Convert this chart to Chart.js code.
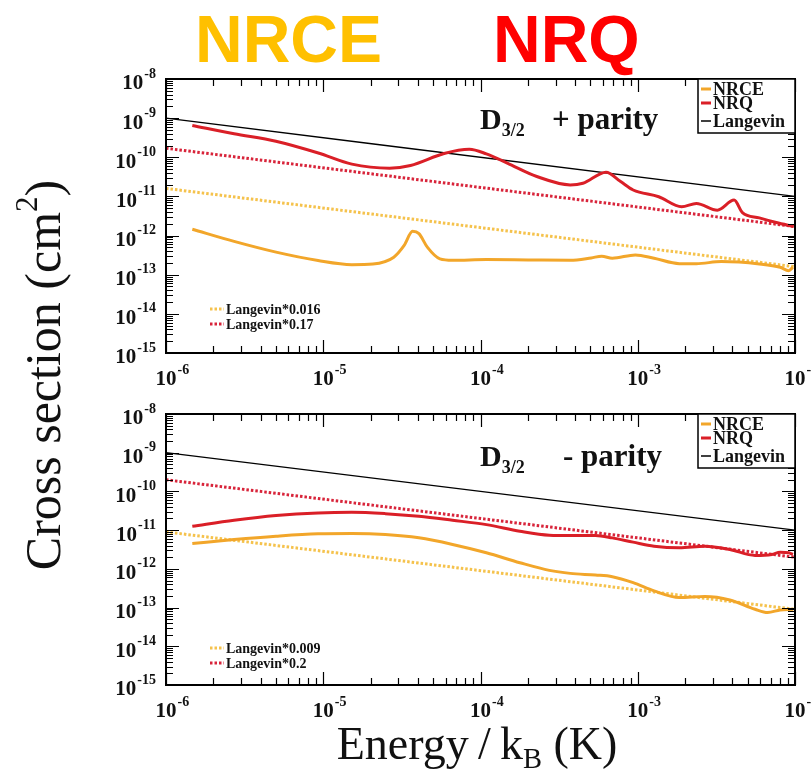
<!DOCTYPE html>
<html>
<head>
<meta charset="utf-8">
<script src="https://cdn.jsdelivr.net/npm/chart.js@4.4.0/dist/chart.umd.min.js"></script>
<style>
    html, body { margin: 0; padding: 0; background: #fff; }
    #page { position: relative; width: 811px; height: 769px; overflow: hidden; }
    #page canvas { position: absolute; left: 0; }
    .big { position: absolute; top: 6px; font: bold 66px 'Liberation Sans', Arial, sans-serif; line-height: 1; }
    .axis-title { position: absolute; width: 500px; height: 60px; line-height: 60px; text-align: center;
                  font-family: 'Liberation Serif', serif; color: #111; white-space: nowrap; }
    #ytitle { left: -207px; top: 345px; font-size: 50px; transform: rotate(-90deg); }
    #xtitle { left: 227px; top: 714px; font-size: 46px; }
    .axis-title sup { font-size: 0.62em; position: relative; top: -0.75em; vertical-align: baseline; line-height: 0; }
    .axis-title sub { font-size: 0.62em; position: relative; top: 0.3em; vertical-align: baseline; line-height: 0; }
</style>
</head>
<body>
<div id="page">
    <div class="big" style="left:195px; color:#FFC000;">NRCE</div>
    <div class="big" style="left:493px; color:#FF0000;">NRQ</div>
    <canvas id="plusChart" width="811" height="400" style="top:0;"></canvas>
    <canvas id="minusChart" width="811" height="369" style="top:400px;"></canvas>
    <div id="ytitle" class="axis-title">Cross section (cm<sup>2</sup>)</div>
    <div id="xtitle" class="axis-title">Energy&#8201;/&#8201;k<sub>B</sub> (K)</div>
</div>
<script>
// Eixos (log-log)
const energyLimits = [1e-6, 1e-2];
const sigmaLimits = [1e-15, 1e-8];
const xExponents = [-6, -5, -4, -3, -2];
const yExponents = [-8, -9, -10, -11, -12, -13, -14, -15];

// Reta de Langevin (extremos)
const langevinEnergy = [1e-6, 1e-2];
const langevinSigma = [1e-9, 1e-11];

// D3/2, paridade +
const plusNrqEnergy = [1.47e-6, 2.71e-6, 5.0e-6, 9.3e-6, 1.52e-5, 2.64e-5, 3.59e-5, 5.87e-5, 8.49e-5, 1.09e-4,
    1.48e-4, 2.28e-4, 3.72e-4, 4.48e-4, 6.28e-4, 7.78e-4, 9.35e-4, 1.36e-3, 1.90e-3, 2.36e-3,
    3.21e-3, 4.10e-3, 4.63e-3, 5.93e-3, 7.6e-3, 9.8e-3];
const plusNrqSigma = [6.52e-10, 4.0e-10, 2.58e-10, 1.29e-10, 6.70e-11, 5.28e-11, 6.19e-11, 1.25e-10, 1.6e-10, 1.22e-10,
    7.11e-11, 3.23e-11, 1.97e-11, 2.17e-11, 4.17e-11, 2.40e-11, 1.46e-11, 9.8e-12, 5.43e-12, 6.62e-12,
    4.46e-12, 8.07e-12, 3.88e-12, 2.83e-12, 2.15e-12, 1.7e-12];
const plusNrceEnergy = [1.47e-6, 2.71e-6, 5.01e-6, 9.27e-6, 1.52e-5, 2.07e-5, 2.81e-5, 3.27e-5, 3.70e-5, 4.06e-5,
    4.59e-5, 5.52e-5, 6.64e-5, 1.09e-4, 2.01e-4, 3.72e-4, 5.06e-4, 5.90e-4, 6.89e-4, 9.66e-4,
    1.27e-3, 1.84e-3, 2.36e-3, 3.40e-3, 5.93e-3, 8.05e-3, 9.12e-3, 9.70e-3];
const plusNrceSigma = [1.45e-12, 7.10e-13, 3.77e-13, 2.30e-13, 1.81e-13, 1.88e-13, 2.80e-13, 5.58e-13, 1.28e-12, 1.12e-12,
    5.06e-13, 2.54e-13, 2.34e-13, 2.44e-13, 2.39e-13, 2.34e-13, 2.69e-13, 2.97e-13, 2.64e-13, 3.21e-13,
    2.64e-13, 1.92e-13, 1.92e-13, 2.16e-13, 1.88e-13, 1.55e-13, 1.27e-13, 1.55e-13];
const plusFactors = [0.016, 0.17];

// D3/2, paridade -
const minusNrqEnergy = [1.47e-6, 2.71e-6, 5.01e-6, 9.27e-6, 1.52e-5, 2.48e-5, 4.06e-5, 6.64e-5, 1.09e-4, 1.78e-4,
    2.74e-4, 3.72e-4, 5.38e-4, 6.89e-4, 9.35e-4, 1.27e-3, 1.84e-3, 2.67e-3, 3.85e-3, 5.57e-3,
    7.13e-3, 8.05e-3, 9.12e-3, 9.70e-3];
const minusNrqSigma = [1.26e-11, 1.80e-11, 2.38e-11, 2.78e-11, 2.89e-11, 2.67e-11, 2.28e-11, 1.80e-11, 1.39e-11, 9.4e-12,
    7.41e-12, 7.26e-12, 7.26e-12, 6.32e-12, 4.90e-12, 3.86e-12, 3.50e-12, 3.86e-12, 3.17e-12, 2.22e-12,
    2.36e-12, 2.70e-12, 2.60e-12, 2.36e-12];
const minusNrceEnergy = [1.47e-6, 2.71e-6, 5.01e-6, 9.27e-6, 1.52e-5, 2.48e-5, 4.06e-5, 6.64e-5, 1.09e-4, 1.78e-4,
    2.74e-4, 3.72e-4, 5.38e-4, 6.89e-4, 9.35e-4, 1.27e-3, 1.84e-3, 2.67e-3, 3.85e-3, 5.57e-3,
    6.70e-3, 8.05e-3, 9.70e-3];
const minusNrceSigma = [4.52e-12, 5.73e-12, 6.98e-12, 8.02e-12, 8.17e-12, 7.71e-12, 6.32e-12, 4.27e-12, 2.60e-12, 1.44e-12,
    9.14e-13, 7.64e-13, 6.92e-13, 6.28e-13, 4.40e-13, 2.69e-13, 1.81e-13, 1.92e-13, 1.57e-13, 9.06e-14,
    7.43e-14, 8.71e-14, 9.06e-14];
const minusFactors = [0.009, 0.2];

// Cores
const corNrce = '#F2A62A';
const corNrceTracejado = '#F5C24C';
const corNrq = '#DA1F27';
const corNrqTracejado = '#D8243A';

const serif = "'Liberation Serif', serif";

function pontos(xs, ys) {
    return xs.map((v, i) => ({ x: v, y: ys[i] }));
}

// "10" com expoente sobrescrito
function desenharPotencia(ctx, exp, x, y, alinhamento) {
    ctx.font = 'bold 21px ' + serif;
    const w10 = ctx.measureText('10').width;
    ctx.font = 'bold 14px ' + serif;
    const texto = String(exp);
    const wExp = ctx.measureText(texto).width;
    const x10 = alinhamento === 'center' ? x - w10 / 2 : x - w10 - wExp - 1;
    ctx.textAlign = 'left';
    ctx.textBaseline = 'middle';
    ctx.font = 'bold 21px ' + serif;
    ctx.fillText('10', x10, y + 5);
    ctx.font = 'bold 14px ' + serif;
    ctx.fillText(texto, x10 + w10 + 1, y - 5);
}

// Moldura, marcas, rótulos e legendas de cada painel
const painelPlugin = {
    id: 'painel',
    afterDraw(chart, args, o) {
        const { ctx, chartArea: a, scales: { x, y } } = chart;
        ctx.save();
        ctx.strokeStyle = '#000';
        ctx.fillStyle = '#111';

        // marcas menores e maiores nos quatro lados
        ctx.lineWidth = 1.2;
        ctx.beginPath();
        for (let e = xExponents[0]; e <= xExponents[xExponents.length - 1]; e++) {
            for (let m = 1; m <= 9; m++) {
                const v = m * Math.pow(10, e);
                if (v > energyLimits[1] * 1.001) break;
                const px = Math.round(x.getPixelForValue(v)) + 0.5;
                const len = m === 1 ? 13 : 7;
                ctx.moveTo(px, a.bottom); ctx.lineTo(px, a.bottom - len);
                ctx.moveTo(px, a.top); ctx.lineTo(px, a.top + len);
            }
        }
        for (let e = yExponents[yExponents.length - 1]; e <= yExponents[0]; e++) {
            for (let m = 1; m <= 9; m++) {
                const v = m * Math.pow(10, e);
                if (v > sigmaLimits[1] * 1.001) break;
                const py = Math.round(y.getPixelForValue(v)) + 0.5;
                const len = m === 1 ? 13 : 7;
                ctx.moveTo(a.left, py); ctx.lineTo(a.left + len, py);
                ctx.moveTo(a.right, py); ctx.lineTo(a.right - len, py);
            }
        }
        ctx.stroke();

        ctx.lineWidth = 2;
        ctx.strokeRect(a.left, a.top, a.right - a.left, a.bottom - a.top);

        // rótulos dos eixos
        xExponents.forEach(e => desenharPotencia(ctx, e, x.getPixelForValue(Math.pow(10, e)), a.bottom + 22, 'center'));
        yExponents.forEach(e => desenharPotencia(ctx, e, a.left - 10, y.getPixelForValue(Math.pow(10, e)), 'right'));

        // legenda do canto superior direito
        const bx = a.right - 97, by = a.top;
        ctx.fillStyle = '#fff';
        ctx.fillRect(bx, by, a.right - bx, 54);
        ctx.lineWidth = 1.5;
        ctx.strokeRect(bx, by, a.right - bx, 54);
        const linhas = [
            { nome: 'NRCE', cor: corNrce, largura: 3, dy: 10 },
            { nome: 'NRQ', cor: corNrq, largura: 3, dy: 24 },
            { nome: 'Langevin', cor: '#000', largura: 1.5, dy: 42 }
        ];
        ctx.textAlign = 'left';
        ctx.textBaseline = 'middle';
        linhas.forEach(l => {
            ctx.strokeStyle = l.cor;
            ctx.lineWidth = l.largura;
            ctx.beginPath();
            ctx.moveTo(bx + 3, by + l.dy);
            ctx.lineTo(bx + 13, by + l.dy);
            ctx.stroke();
            ctx.fillStyle = '#111';
            ctx.font = 'bold 18px ' + serif;
            ctx.fillText(l.nome, bx + 15, by + l.dy + 1);
        });

        // D3/2 e paridade
        ctx.textBaseline = 'alphabetic';
        ctx.font = 'bold 30px ' + serif;
        ctx.fillText('D', 480, a.top + o.baseD);
        const wD = ctx.measureText('D').width;
        ctx.font = 'bold 18px ' + serif;
        ctx.fillText('3/2', 480 + wD, a.top + o.baseD + 7);
        ctx.font = 'bold 31px ' + serif;
        ctx.fillText(o.paridade, o.xParidade, a.top + o.baseD);

        // legenda das retas de Langevin escaladas
        ctx.textBaseline = 'middle';
        o.escalas.forEach((s, i) => {
            const ly = a.top + o.yEscalas[i];
            ctx.strokeStyle = s.cor;
            ctx.lineWidth = 3;
            ctx.setLineDash([2.5, 2]);
            ctx.beginPath();
            ctx.moveTo(a.left + 44, ly);
            ctx.lineTo(a.left + 58, ly);
            ctx.stroke();
            ctx.setLineDash([]);
            ctx.fillStyle = '#111';
            ctx.font = 'bold 14px ' + serif;
            ctx.fillText('Langevin*' + s.fator, a.left + 60, ly + 1);
        });
        ctx.restore();
    }
};

function criarPainel(id, nrqE, nrqS, nrceE, nrceS, fatores, padding, extra) {
    const linhaBase = { pointRadius: 0, fill: false, cubicInterpolationMode: 'monotone' };
    const datasets = [
        Object.assign({ label: 'NRQ', data: pontos(nrqE, nrqS), borderColor: corNrq, borderWidth: 3 }, linhaBase),
        Object.assign({ label: 'NRCE', data: pontos(nrceE, nrceS), borderColor: corNrce, borderWidth: 3 }, linhaBase),
        Object.assign({ label: 'Langevin*' + fatores[1], data: pontos(langevinEnergy, langevinSigma.map(s => s * fatores[1])),
            borderColor: corNrqTracejado, borderWidth: 3, borderDash: [2.5, 2] }, linhaBase),
        Object.assign({ label: 'Langevin*' + fatores[0], data: pontos(langevinEnergy, langevinSigma.map(s => s * fatores[0])),
            borderColor: corNrceTracejado, borderWidth: 3, borderDash: [2.5, 2] }, linhaBase),
        Object.assign({ label: 'Langevin', data: pontos(langevinEnergy, langevinSigma), borderColor: '#000', borderWidth: 1.3 }, linhaBase)
    ];
    return new Chart(document.getElementById(id), {
        type: 'line',
        data: { datasets: datasets },
        options: {
            responsive: false,
            animation: false,
            devicePixelRatio: 1,
            layout: { padding: padding },
            scales: {
                x: { type: 'logarithmic', min: energyLimits[0], max: energyLimits[1], display: false },
                y: { type: 'logarithmic', min: sigmaLimits[0], max: sigmaLimits[1], display: false }
            },
            plugins: {
                legend: { display: false },
                tooltip: { enabled: false },
                painel: Object.assign({
                    escalas: [
                        { fator: fatores[0], cor: corNrceTracejado },
                        { fator: fatores[1], cor: corNrqTracejado }
                    ]
                }, extra)
            }
        },
        plugins: [painelPlugin]
    });
}

criarPainel('plusChart', plusNrqEnergy, plusNrqSigma, plusNrceEnergy, plusNrceSigma, plusFactors,
    { left: 166, right: 16, top: 79, bottom: 47 },
    { paridade: '+ parity', xParidade: 552, baseD: 50, yEscalas: [230, 245] });

criarPainel('minusChart', minusNrqEnergy, minusNrqSigma, minusNrceEnergy, minusNrceSigma, minusFactors,
    { left: 166, right: 16, top: 14, bottom: 84 },
    { paridade: '- parity', xParidade: 563, baseD: 52, yEscalas: [234, 249] });
</script>
</body>
</html>
